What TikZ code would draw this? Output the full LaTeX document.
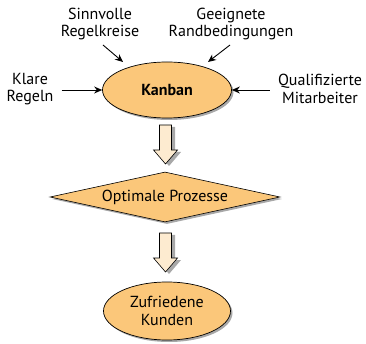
\documentclass[tikz,border=0pt]{standalone}
\usepackage{fontspec}
\setmainfont{PT Sans}
\usetikzlibrary{shapes.geometric,shadows,arrows.meta}
\definecolor{ofill}{HTML}{FBC77A}
\definecolor{bfill}{HTML}{FDEBD0}
\definecolor{shad}{HTML}{A8A8A8}
\tikzset{
  txt/.style={font=\fontsize{16}{17.5}\selectfont},
  lbl/.style={txt, align=center, inner sep=0pt},
  ell/.style={txt, ellipse, draw=black, line width=0.7pt, fill=ofill, inner sep=0pt,
     align=center,
     drop shadow={shadow xshift=2pt, shadow yshift=-2pt, fill=shad, opacity=1}},
  dia/.style={txt, diamond, draw=black, line width=0.6pt, fill=ofill, inner sep=0pt,
     aspect=4.6,
     drop shadow={shadow xshift=2pt, shadow yshift=-2pt, fill=shad, opacity=1}},
  arr/.style={-{Stealth[length=8pt,width=7pt]}, line width=0.9pt},
  blk/.style={draw=black, line width=0.6pt, fill=bfill},
  blkshadow/.style={fill=shad},
}
\begin{document}
\begin{tikzpicture}[x=1pt,y=-1pt]
\useasboundingbox (0,0) rectangle (366,344);
% nodes
\node[ell, minimum width=129pt, minimum height=56pt] (kanban) at (167,90) {\bfseries Kanban};
\node[lbl] (sinn) at (100,24) {Sinnvolle\\Regelkreise};
\node[lbl] (geeig) at (231,24) {Geeignete\\Randbedingungen};
\node[lbl] (klare) at (30,89) {Klare\\Regeln};
\node[lbl] (quali) at (320,89) {Qualifizierte\\Mitarbeiter};
\node[dia, minimum width=230pt, minimum height=50pt] (opt) at (165,197) {Optimale Prozesse};
\node[ell, minimum width=127pt, minimum height=58pt] (kund) at (167,311) {Zufriedene\\Kunden};
% small arrows
\coordinate (s1) at (103,45); \coordinate (e1) at (123,62);
\coordinate (s2) at (230,45); \coordinate (e2) at (208,62);
\draw[arr] (s1) -- (e1);
\draw[arr] (s2) -- (e2);
\draw[arr, shorten <=8pt] (klare.east |- kanban.west) -- (kanban.west);
\draw[arr, shorten <=8pt] (quali.west |- kanban.east) -- (kanban.east);
% block arrows
\foreach \yt/\yh/\yp in {125/150/164, 233/258/272}{
  \fill[blkshadow] (161+2,\yt+2) -- (173+2,\yt+2) -- (173+2,\yh+2) -- (179+2,\yh+2) -- (167+2,\yp+2) -- (155+2,\yh+2) -- (161+2,\yh+2) -- cycle;
  \draw[blk] (159.5,\yt) -- (171.5,\yt) -- (171.5,\yh) -- (177.5,\yh) -- (165.5,\yp) -- (153.5,\yh) -- (159.5,\yh) -- cycle;
}
\end{tikzpicture}
\end{document}
